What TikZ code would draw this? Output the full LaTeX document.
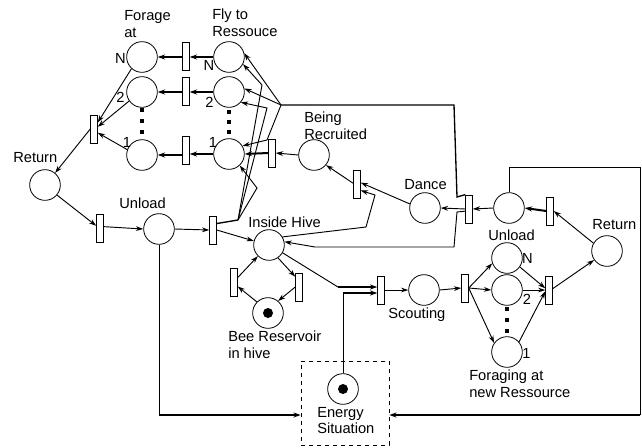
\documentclass[tikz,border=0pt]{standalone}
\usepackage{fontspec}
\setmainfont{Liberation Sans}
\usetikzlibrary{arrows.meta}
\begin{document}
\begin{tikzpicture}[x=0.75pt,y=-0.75pt,
  place/.style={circle,draw,minimum size=23pt,inner sep=0pt,line width=0.6pt},
  trans/.style={rectangle,draw,minimum width=5pt,minimum height=21pt,inner sep=0pt,fill=white,line width=0.6pt},
  arc/.style={-{Stealth[length=5.5pt,width=3.6pt]},line width=0.7pt},
  tarc/.style={-{Stealth[length=5.5pt,width=3.8pt]},line width=1.5pt},
  plain/.style={line width=0.7pt},
  lbl/.style={inner sep=0pt,font=\fontsize{11}{12.5}\selectfont},
  token/.style={circle,fill=black,minimum size=7.5pt,inner sep=0pt},
  sqdot/.style={rectangle,fill=black,minimum width=3pt,minimum height=3pt,inner sep=0pt}]
\useasboundingbox (0,0) rectangle (642,447);
% places
\node[place] (fN) at (142,57) {};
\node[place] (f2) at (142,92) {};
\node[place] (f1) at (142,155) {};
\node[place] (yN) at (229,57) {};
\node[place] (y2) at (229,92) {};
\node[place] (y1) at (229,154) {};
\node[place] (retL) at (45,185) {};
\node[place] (unL) at (159,229) {};
\node[place] (hive) at (269,245) {};
\node[place] (res) at (268,313) {};
\node[token] (resT) at (res) {};
\node[place] (br) at (314,155) {};
\node[place] (dance) at (425,208) {};
\node[place] (rp) at (509,208) {};
\node[place] (retR) at (607,251) {};
\node[place] (uN) at (507,258) {};
\node[place] (u2) at (507,290) {};
\node[place] (u1) at (507,352) {};
\node[place] (scout) at (424,290) {};
\node[draw,dashed,line width=0.5pt,minimum width=66pt,minimum height=63pt,inner sep=0pt] (Ebox) at (345,403) {};
\node[place] (energy) at (343,389) {};
\node[token] (energyT) at (energy) {};
% transitions
\node[trans] (tN) at (186,56) {};
\node[trans] (t2) at (186,91) {};
\node[trans] (t1) at (186,150) {};
\node[trans] (tL) at (94,129) {};
\node[trans] (tU) at (100,228) {};
\node[trans] (tH) at (213,230) {};
\node[trans] (tBR) at (272,153) {};
\node[trans] (tD) at (357,184) {};
\node[trans] (tX) at (469,209) {};
\node[trans] (tR) at (550,211) {};
\node[trans] (tb1) at (234,282) {};
\node[trans] (tb2) at (299,287) {};
\node[trans] (tS) at (381,290) {};
\node[trans] (tF) at (465,288) {};
\node[trans] (tC) at (549,290) {};
% dots
\node[sqdot] (d1a) at (142,110) {};
\node[sqdot] (d1b) at (142,121) {};
\node[sqdot] (d1c) at (142,132) {};
\node[sqdot] (d2a) at (229,112) {};
\node[sqdot] (d2b) at (229,122) {};
\node[sqdot] (d2c) at (229,132) {};
\node[sqdot] (d3a) at (507,309) {};
\node[sqdot] (d3b) at (507,320) {};
\node[sqdot] (d3c) at (507,331) {};
% labels
\node[lbl,align=left,anchor=north west] (lForage) at (124,10.5) {Forage\\at};
\node[lbl,align=left,anchor=north west] (lFly) at (212,8.5) {Fly to\\Ressouce};
\node[lbl,anchor=north west] (lRetL) at (13,152) {Return};
\node[lbl,anchor=north west] (lUnL) at (119,197.5) {Unload};
\node[lbl,align=left,anchor=north west] (lBR) at (304,111.7) {Being\\Recruited};
\node[lbl,anchor=north west] (lDance) at (404,179.3) {Dance};
\node[lbl,anchor=north west] (lHive) at (248,216.7) {Inside Hive};
\node[lbl,align=left,anchor=north west] (lRes) at (228,331) {Bee Reservoir\\in hive};
\node[lbl,anchor=north west] (lScout) at (388,307.3) {Scouting};
\node[lbl,anchor=north west] (lUnR) at (488,230) {Unload};
\node[lbl,anchor=north west] (lRetR) at (592,219.3) {Return};
\node[lbl,align=left,anchor=north west] (lForNew) at (469,370) {Foraging at\\new Ressource};
\node[lbl,align=left,anchor=north west] (lEnergy) at (317,406.7) {Energy\\Situation};
\node[lbl] (nfN) at (120.5,58) {N};
\node[lbl] (nf2) at (120.5,97) {2};
\node[lbl] (nf1) at (127,142) {1};
\node[lbl] (nyN) at (209,65.5) {N};
\node[lbl] (ny2) at (209.5,102) {2};
\node[lbl] (ny1) at (213,142) {1};
\node[lbl] (nuN) at (527.5,258) {N};
\node[lbl] (nu2) at (527,299) {2};
\node[lbl] (nu1) at (526.5,353) {1};
% coordinates
\coordinate (J1) at (281,105);
\coordinate (J3) at (238,220);
\coordinate (bN) at (262,85);
\coordinate (b2) at (267,108);
\coordinate (b1) at (257,188);
\coordinate (bJ) at (267,140);
\coordinate (xA) at (457,197);
\coordinate (xB) at (454,105);
\coordinate (xC) at (457,212);
\coordinate (xD) at (454,247);
\coordinate (xE) at (315,247);
\coordinate (hD1) at (366,227);
\coordinate (hD2) at (375,195);
\coordinate (eA) at (343,293);
\coordinate (hA) at (338,287);
\coordinate (uA) at (159,415);
\coordinate (rA) at (509,167);
\coordinate (rB) at (640,167);
\coordinate (rC) at (640,415);
% fly -> forage
\draw[tarc] (yN.west) -- (yN.west -| tN.east);
\draw[tarc] (tN.west |- fN.east) -- (fN.east);
\draw[tarc] (y2.west) -- (y2.west -| t2.east);
\draw[tarc] (t2.west |- f2.east) -- (f2.east);
\draw[tarc] (y1.west) -- (y1.west -| t1.east);
\draw[tarc] (t1.west |- f1.east) -- (f1.east);
% forage -> return
\draw[arc] (fN.228) -- (tL.60);
\draw[arc] (f2.215) -- (tL.30);
\draw[arc] (f1.160) -- (tL.-45);
\draw[arc] (tL.west) -- (retL.50);
\draw[arc] (retL.-40) -- (tU.150);
\draw[arc] (tU.20) -- (unL.180);
\draw[arc] (unL.east) -- (tH.west);
\draw[arc] (tH.east) -- (hive.165);
% fan to fly places
\draw[line width=1pt] (tH.60) -- (J3);
\draw[arc] (J1) -- (yN.14);
\draw[arc] (J1) -- (y2.13);
\draw[arc] (J1) -- (bJ) -- (y1.31);
\draw[arc] (J3) -- (bN) -- (yN.-27);
\draw[arc] (J3) -- (b2) -- (y2.-41);
\draw[arc] (J3) -- (b1) -- (y1.-47);
\draw[tarc] (tBR.west) -- (y1.east);
\draw[arc] (br.west) -- (tBR.east);
% dance area
\draw[arc] (tD.170) -- (br.-40);
\draw[arc] (dance.165) -- (tD.20);
\draw[arc] (hive.31) -- (hD1) -- (hD2) -- (tD.-60);
\draw[arc] (rp.west) -- (tX.east);
\draw[arc] (tX.west) -- (dance.east);
\draw[line width=1pt] (tX.north west) -- (xA) -- (xB) -- (J1);
\draw[arc] (tX.210) -- (xC) -- (xD) -- (xE) -- (hive.12);
\draw[tarc] (tR.west) -- (rp.east);
\draw[arc] (retR.150) -- (tR.east);
% energy links
\draw[plain] (rp.north) -- (rA) -- (rB) -- (rC);
\draw[tarc] (rC) -- (rC -| Ebox.east);
\draw[plain] (unL.south) -- (uA);
\draw[tarc] (uA) -- (uA -| Ebox.west);
\draw[plain] (energy.north) -- (eA);
\draw[tarc] (eA) -- (eA -| tS.west);
\draw[plain] (hive.-30) -- (hA);
\draw[tarc] (hA) -- (hA -| tS.west);
% bee reservoir
\draw[arc] (res.135) -- (tb1.-50);
\draw[arc] (tb1.50) -- (hive.225);
\draw[arc] (hive.-55) -- (tb2.110);
\draw[arc] (tb2.west) -- (res.50);
% scouting
\draw[arc] (tS.east) -- (scout.west);
\draw[arc] (scout.east) -- (tF.west);
\draw[arc] (tF.east) -- (uN.200);
\draw[arc] (tF.east) -- (u2.west);
\draw[arc] (tF.east) -- (u1.145);
\draw[arc] (uN.-35) -- (tC.155);
\draw[arc] (u2.east) -- (tC.180);
\draw[arc] (u1.40) -- (tC.200);
\draw[arc] (tC.20) -- (retR.215);
\end{tikzpicture}
\end{document}
